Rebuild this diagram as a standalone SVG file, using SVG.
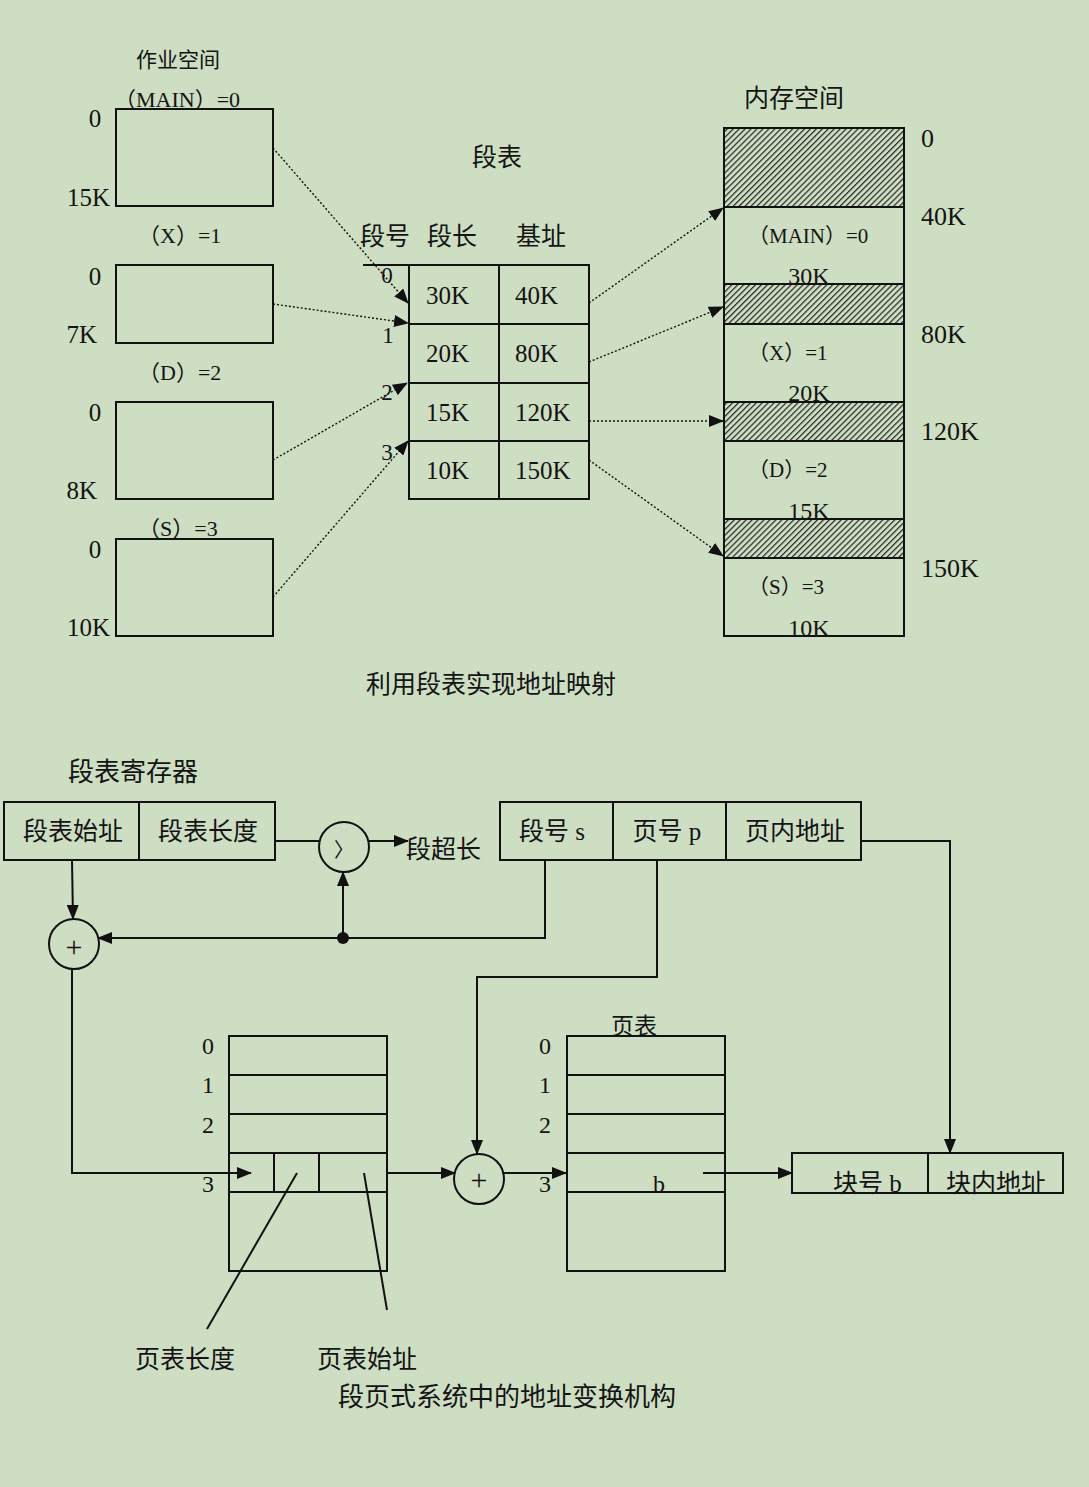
<svg xmlns="http://www.w3.org/2000/svg" width="1089" height="1487" viewBox="0 0 1089 1487">
<style>
  .t{font-family:"Liberation Serif","Noto Sans CJK SC",serif;fill:#141414}
  .m{text-anchor:middle}
  .e{text-anchor:end}
  .box{fill:none;stroke:#111;stroke-width:2}
  .ln{fill:none;stroke:#111;stroke-width:2}
  .dot{fill:none;stroke:#111;stroke-width:1.4;stroke-dasharray:2 2}
  .hat{fill:url(#hatch);stroke:#111;stroke-width:2}
</style>
<defs>
  <marker id="ah" markerUnits="userSpaceOnUse" markerWidth="15" markerHeight="12" refX="14" refY="6" orient="auto">
    <path d="M0,0 L15,6 L0,12 Z" fill="#111"/>
  </marker>
  <pattern id="hatch" patternUnits="userSpaceOnUse" width="4.2" height="4.2" patternTransform="rotate(45)">
    <rect width="4.2" height="4.2" fill="#cedec3"/>
    <line x1="0" y1="0" x2="0" y2="4.2" stroke="#262626" stroke-width="2.4"/>
  </pattern>
</defs>

<rect width="1089" height="1487" fill="#cedec3"/>

<!-- ===== Upper figure: segment table mapping ===== -->
<g id="job-space" class="t">
  <text x="178" y="67" class="m" font-size="21">作业空间</text>
</g>

<g id="seg-main">
  <rect class="box" x="116" y="109" width="157" height="97"/>
  <text class="t" x="114" y="107" font-size="22">（MAIN）=0</text>
  <text class="t m" x="95" y="127" font-size="25">0</text>
  <text class="t e" x="110" y="206" font-size="25">15K</text>
</g>
<g id="seg-x">
  <rect class="box" x="116" y="265" width="157" height="78"/>
  <text class="t" x="138" y="243" font-size="22">（X）=1</text>
  <text class="t m" x="95" y="285" font-size="25">0</text>
  <text class="t e" x="97" y="343" font-size="25">7K</text>
</g>
<g id="seg-d">
  <rect class="box" x="116" y="402" width="157" height="97"/>
  <text class="t" x="138" y="380" font-size="22">（D）=2</text>
  <text class="t m" x="95" y="421" font-size="25">0</text>
  <text class="t e" x="97" y="499" font-size="25">8K</text>
</g>
<g id="seg-s">
  <rect class="box" x="116" y="539" width="157" height="97"/>
  <text class="t" x="138" y="536" font-size="22">（S）=3</text>
  <text class="t m" x="95" y="558" font-size="25">0</text>
  <text class="t e" x="110" y="636" font-size="25">10K</text>
</g>

<g id="segment-table">
  <text class="t m" x="497" y="166" font-size="25">段表</text>
  <text class="t m" x="385" y="245" font-size="25">段号</text>
  <text class="t m" x="452" y="245" font-size="25">段长</text>
  <text class="t m" x="541" y="245" font-size="25">基址</text>
  <line class="ln" x1="363" y1="265" x2="409" y2="265"/>
  <rect class="box" x="409" y="265" width="180" height="234"/>
  <line class="ln" x1="499" y1="265" x2="499" y2="499"/>
  <line class="ln" x1="409" y1="324" x2="589" y2="324"/>
  <line class="ln" x1="409" y1="383" x2="589" y2="383"/>
  <line class="ln" x1="409" y1="441" x2="589" y2="441"/>
  <g class="t m" font-size="23">
    <text x="387" y="283">0</text>
    <text x="388" y="343">1</text>
    <text x="387" y="400">2</text>
    <text x="387" y="460">3</text>
  </g>
  <g class="t" font-size="25">
    <text x="426" y="304">30K</text>
    <text x="426" y="362">20K</text>
    <text x="426" y="421">15K</text>
    <text x="426" y="479">10K</text>
    <text x="515" y="304">40K</text>
    <text x="515" y="362">80K</text>
    <text x="515" y="421">120K</text>
    <text x="515" y="479">150K</text>
  </g>
</g>

<g id="memory">
  <text class="t m" x="794" y="107" font-size="25">内存空间</text>
  <rect class="hat" x="724" y="128" width="180" height="79"/>
  <rect class="box" x="724" y="207" width="180" height="77"/>
  <rect class="hat" x="724" y="284" width="180" height="40"/>
  <rect class="box" x="724" y="324" width="180" height="78"/>
  <rect class="hat" x="724" y="402" width="180" height="39"/>
  <rect class="box" x="724" y="441" width="180" height="78"/>
  <rect class="hat" x="724" y="519" width="180" height="39"/>
  <rect class="box" x="724" y="558" width="180" height="78"/>
  <g class="t" font-size="21">
    <text x="748" y="243">（MAIN）=0</text>
    <text x="748" y="360">（X）=1</text>
    <text x="748" y="477">（D）=2</text>
    <text x="748" y="594">（S）=3</text>
  </g>
  <g class="t m" font-size="24">
    <text x="809" y="284">30K</text>
    <text x="809" y="401">20K</text>
    <text x="809" y="519">15K</text>
    <text x="809" y="636">10K</text>
  </g>
  <g class="t" font-size="26">
    <text x="921" y="147">0</text>
    <text x="921" y="225">40K</text>
    <text x="921" y="343">80K</text>
    <text x="921" y="440">120K</text>
    <text x="921" y="577">150K</text>
  </g>
</g>

<g id="mapping-connectors">
  <line class="dot" x1="273" y1="148" x2="408" y2="303" marker-end="url(#ah)"/>
  <line class="dot" x1="273" y1="304" x2="408" y2="323" marker-end="url(#ah)"/>
  <line class="dot" x1="273" y1="460" x2="407" y2="383" marker-end="url(#ah)"/>
  <line class="dot" x1="273" y1="597" x2="408" y2="441" marker-end="url(#ah)"/>
  <line class="dot" x1="589" y1="303" x2="723" y2="208" marker-end="url(#ah)"/>
  <line class="dot" x1="589" y1="362" x2="723" y2="307" marker-end="url(#ah)"/>
  <line class="dot" x1="589" y1="421" x2="723" y2="421" marker-end="url(#ah)"/>
  <line class="dot" x1="589" y1="460" x2="723" y2="556" marker-end="url(#ah)"/>
</g>

<text class="t m" x="491" y="693" font-size="25">利用段表实现地址映射</text>

<!-- ===== Lower figure: address translation in segmented paging ===== -->
<g id="seg-table-register">
  <text class="t" x="68" y="781" font-size="26">段表寄存器</text>
  <rect class="box" x="4" y="802" width="271" height="58"/>
  <line class="ln" x1="139" y1="802" x2="139" y2="860"/>
  <text class="t m" x="73" y="840" font-size="25">段表始址</text>
  <text class="t m" x="208" y="840" font-size="25">段表长度</text>
</g>

<g id="compare">
  <circle class="box" cx="344" cy="847" r="25"/>
  <text class="t" x="334" y="857" font-size="20">〉</text>
</g>
<text id="overflow" class="t" x="406" y="858" font-size="25">段超长</text>

<g id="adder-seg">
  <circle class="box" cx="74" cy="944" r="25"/>
  <text class="t m" x="74" y="957" font-size="30">+</text>
</g>

<g id="logical-address">
  <rect class="box" x="500" y="802" width="361" height="58"/>
  <line class="ln" x1="613" y1="802" x2="613" y2="860"/>
  <line class="ln" x1="726" y1="802" x2="726" y2="860"/>
  <text class="t m" x="552" y="840" font-size="25">段号 s</text>
  <text class="t m" x="667" y="840" font-size="25">页号 p</text>
  <text class="t m" x="795" y="840" font-size="25">页内地址</text>
</g>

<g id="seg-table-2">
  <rect class="box" x="229" y="1036" width="158" height="235"/>
  <line class="ln" x1="229" y1="1075" x2="387" y2="1075"/>
  <line class="ln" x1="229" y1="1114" x2="387" y2="1114"/>
  <line class="ln" x1="229" y1="1153" x2="387" y2="1153"/>
  <line class="ln" x1="229" y1="1192" x2="387" y2="1192"/>
  <line class="ln" x1="274" y1="1153" x2="274" y2="1192"/>
  <line class="ln" x1="319" y1="1153" x2="319" y2="1192"/>
  <g class="t m" font-size="24">
    <text x="208" y="1054">0</text>
    <text x="208" y="1093">1</text>
    <text x="208" y="1133">2</text>
    <text x="208" y="1192">3</text>
  </g>
  <text class="t" x="135" y="1368" font-size="25">页表长度</text>
  <text class="t" x="317" y="1368" font-size="25">页表始址</text>
</g>

<g id="adder-page">
  <circle class="box" cx="479" cy="1179" r="25"/>
  <text class="t m" x="479" y="1190" font-size="30">+</text>
</g>

<g id="page-table">
  <text class="t m" x="634" y="1034" font-size="23">页表</text>
  <rect class="box" x="567" y="1036" width="158" height="235"/>
  <line class="ln" x1="567" y1="1075" x2="725" y2="1075"/>
  <line class="ln" x1="567" y1="1114" x2="725" y2="1114"/>
  <line class="ln" x1="567" y1="1153" x2="725" y2="1153"/>
  <line class="ln" x1="567" y1="1192" x2="725" y2="1192"/>
  <g class="t m" font-size="24">
    <text x="545" y="1054">0</text>
    <text x="545" y="1093">1</text>
    <text x="545" y="1133">2</text>
    <text x="545" y="1192">3</text>
    <text x="659" y="1192">b</text>
  </g>
</g>

<g id="physical-address">
  <rect class="box" x="792" y="1153" width="271" height="40"/>
  <line class="ln" x1="928" y1="1153" x2="928" y2="1193"/>
  <text class="t" x="833" y="1192" font-size="25">块号 b</text>
  <text class="t" x="946" y="1192" font-size="25">块内地址</text>
</g>

<g id="translation-connectors">
  <line class="ln" x1="275" y1="841" x2="320" y2="841"/>
  <line class="ln" x1="369" y1="841" x2="408" y2="841" marker-end="url(#ah)"/>
  <circle cx="343" cy="938" r="6" fill="#111"/>
  <line class="ln" x1="343" y1="938" x2="343" y2="872" marker-end="url(#ah)"/>
  <polyline class="ln" points="545,860 545,938 98,938" marker-end="url(#ah)"/>
  <line class="ln" x1="72" y1="860" x2="73" y2="919" marker-end="url(#ah)"/>
  <polyline class="ln" points="72,969 72,1173 251,1173" marker-end="url(#ah)"/>
  <polyline class="ln" points="657,860 657,977 477,977 477,1154" marker-end="url(#ah)"/>
  <polyline class="ln" points="861,841 950,841 950,1153" marker-end="url(#ah)"/>
  <line class="ln" x1="387" y1="1173" x2="455" y2="1173" marker-end="url(#ah)"/>
  <line class="ln" x1="502" y1="1173" x2="566" y2="1173" marker-end="url(#ah)"/>
  <line class="ln" x1="703" y1="1173" x2="792" y2="1173" marker-end="url(#ah)"/>
  <line class="ln" x1="297" y1="1173" x2="207" y2="1329"/>
  <line class="ln" x1="364" y1="1173" x2="387" y2="1310"/>
</g>

<text class="t" x="338" y="1406" font-size="26">段页式系统中的地址变换机构</text>
</svg>
